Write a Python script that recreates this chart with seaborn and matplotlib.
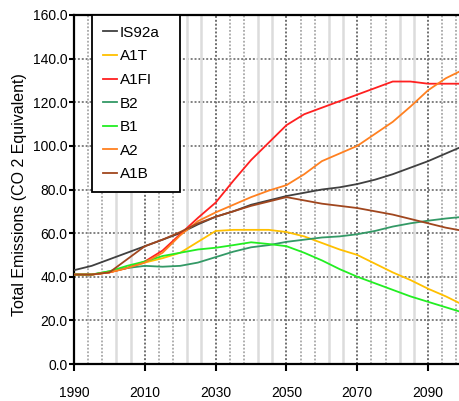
import matplotlib
matplotlib.use("Agg")
import matplotlib.pyplot as plt
import seaborn as sns
import pandas as pd
import numpy as np
from matplotlib.ticker import FixedLocator

years = [1990, 1995, 2000, 2005, 2010, 2015, 2020, 2025, 2030, 2035, 2040, 2045,
         2050, 2055, 2060, 2065, 2070, 2075, 2080, 2085, 2090, 2095, 2100]

IS92a = [43, 45, 48, 51, 54, 57, 60, 64, 67.5, 70, 73, 75, 77, 78.5, 80, 81, 82.5,
         84.5, 87, 90, 93, 96.5, 100]
A1T = [41, 41, 42, 44, 46.5, 48.5, 51, 56, 61, 61.5, 61.5, 61.5, 60.5, 58.5, 55.5,
       52.5, 50, 46, 42, 38.5, 34.5, 31, 27]
A1FI = [41, 41, 42, 44, 47, 52, 59.5, 67, 74, 84, 93.5, 101.5, 109.5, 114.5, 117.5,
        120.5, 123.5, 126.5, 129.5, 129.5, 128.5, 128.5, 128.5]
B2 = [41, 41, 42.5, 44, 45, 44.6, 45, 46.5, 49, 51.5, 53.5, 54.5, 56, 57, 58, 58.5,
      59.5, 61, 63, 64.5, 65.7, 66.7, 67.5]
B1 = [41, 41, 42.5, 45, 47, 49.5, 51, 52.5, 53.3, 54.5, 55.8, 55, 54, 51, 47.5,
      43.5, 40, 37, 34, 31, 28.5, 26, 23.5]
A2 = [41, 41, 42, 44, 46.5, 51, 59, 65.5, 69.5, 73, 76.5, 79.5, 82, 87, 93, 96.5,
      100, 105.5, 111, 118, 125.5, 131, 135]
A1B = [41, 41, 42, 48, 54, 57, 60.5, 64.5, 67.5, 70, 72.5, 74.5, 76.5, 75, 73.5,
       72.5, 71.5, 70, 68.5, 66.5, 64.5, 62.5, 61]

scenarios = ["IS92a", "A1T", "A1FI", "B2", "B1", "A2", "A1B"]
series = [IS92a, A1T, A1FI, B2, B1, A2, A1B]
colors = ["#404040", "#FFC000", "#FF2020", "#339966", "#22EE22", "#FF8020", "#A0461E"]

xticks = [1990, 2010, 2030, 2050, 2070, 2090]
yticks = [0, 20, 40, 60, 80, 100, 120, 140, 160]

df = pd.DataFrame({
    "Year": np.tile(years, len(scenarios)),
    "Emissions": np.concatenate(series),
    "Scenario": np.repeat(scenarios, len(years)),
})

plt.rcParams['font.family'] = ['Liberation Sans', 'DejaVu Sans']

fig = plt.figure(figsize=(4.6, 4.01), dpi=100)
ax = fig.add_axes([74/460, 1-364/401, 386/460, (364-15)/401])

# grid
for yv in yticks[1:-1]:
    ax.axhline(yv, color="#808080", lw=1.4, ls=(0, (1, 1)), zorder=1)
for i, xv in enumerate(xticks):
    if i > 0:
        ax.axvline(xv, color="#707070", lw=1.4, ls=(0, (1, 1)), zorder=1)
    for k, off in enumerate([4, 8, 12, 16]):
        x = xv + off
        if k < 2:
            ax.axvline(x, color="#a8a8a8", lw=1.3, ls=(0, (1, 1)), zorder=1)
        else:
            ax.axvline(x, color="#dcdcdc", lw=1.8, ls="-", zorder=1)

sns.lineplot(data=df, x="Year", y="Emissions", hue="Scenario",
             hue_order=scenarios, palette=dict(zip(scenarios, colors)),
             lw=1.3, ax=ax, zorder=3)

ax.set_xlim(1990, 2099)
ax.set_ylim(0, 160)
ax.xaxis.set_major_locator(FixedLocator(xticks))
ax.set_yticks(yticks)
ax.set_yticklabels([f"{v:.1f}" for v in yticks], fontsize=10)
ax.set_xticklabels([str(v) for v in xticks], fontsize=10)
ax.tick_params(axis="x", length=5, width=1.5, pad=11, direction="out")
ax.tick_params(axis="y", length=3.5, width=1.5, pad=1, direction="out")
ax.set_xlabel("")
ax.set_ylabel("")
for s in ["left", "bottom", "top"]:
    ax.spines[s].set_linewidth(1.6)
    ax.spines[s].set_color("black")
ax.spines["right"].set_visible(False)

fig.text(19.5/460, 1-195/401, "Total Emissions (CO 2 Equivalent)", rotation=90,
         ha="center", va="center", fontsize=11.5)

handles, labels = ax.get_legend_handles_labels()
w = 386.0
h = 349.0
leg_h = (191 - 15) / h
leg = ax.legend(handles, labels, loc="upper left",
                bbox_to_anchor=((92-74)/w, 1.0 - leg_h, (180-92)/w, leg_h),
                mode="expand", borderaxespad=0, fontsize=11,
                handlelength=0.95, handletextpad=0.15, labelspacing=0.63,
                borderpad=0.7, frameon=True, fancybox=False, framealpha=1)
leg.get_frame().set_edgecolor("black")
leg.get_frame().set_linewidth(1.3)
leg.set_zorder(5)

fig.savefig("out.png", dpi=100)
